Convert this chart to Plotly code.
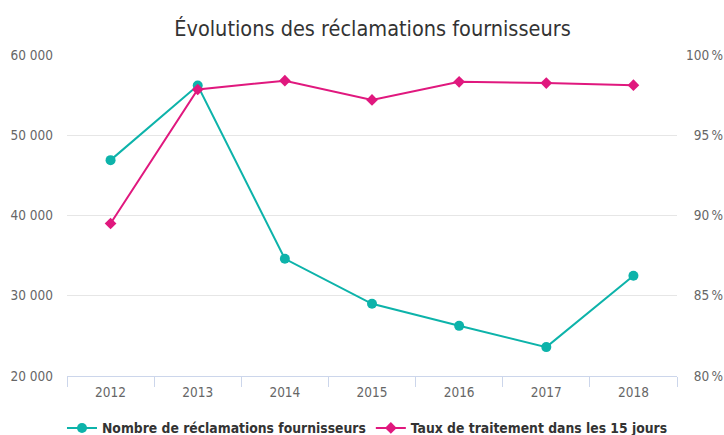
import plotly.graph_objects as go

years = ["2012", "2013", "2014", "2015", "2016", "2017", "2018"]
reclamations = [46900, 56200, 34600, 29000, 26250, 23600, 32500]
taux = [89.5, 97.85, 98.4, 97.2, 98.33, 98.25, 98.12]

left_ticks = [20000, 30000, 40000, 50000, 60000]
right_ticks = [80, 85, 90, 95, 100]
FSP = "\u2007"  # figure space, same width as a digit
NSP = "\u202f"  # narrow no-break space
right_labels = [(FSP if v < 100 else "") + f"{v}{NSP}%" for v in right_ticks]

FONT = "DejaVu Sans Condensed, Liberation Sans Narrow, Open Sans, sans-serif"
TEAL = "#0db3aa"
MAGENTA = "#e0187e"

fig = go.Figure()
fig.add_trace(go.Scatter(
    x=years, y=reclamations, name="<b>Nombre de réclamations fournisseurs</b>",
    mode="lines+markers", line=dict(color=TEAL, width=2),
    marker=dict(symbol="circle", size=10, color=TEAL), yaxis="y"))
fig.add_trace(go.Scatter(
    x=years, y=taux, name="<b>Taux de traitement dans les 15 jours</b>",
    mode="lines+markers", line=dict(color=MAGENTA, width=2),
    marker=dict(symbol="diamond", size=9, color=MAGENTA), yaxis="y2"))

fig.update_layout(
    width=724, height=435,
    margin=dict(l=67, r=47, t=55, b=59, autoexpand=False),
    paper_bgcolor="white", plot_bgcolor="white",
    separators=", ",
    font=dict(family=FONT, color="#666666", size=13.5),
    title=dict(text="Évolutions des réclamations fournisseurs", x=0.5145, xanchor="center",
               y=0.9356, yanchor="middle", font=dict(size=21.5, color="#333333", family=FONT)),
    xaxis=dict(type="category", range=[-0.5, len(years) - 0.5], showgrid=False, showline=True,
               linecolor="#ccd6eb", linewidth=1,
               ticks="outside", tickson="boundaries", ticklen=10, tickcolor="#ccd6eb",
               ticklabelstandoff=4,
               tickfont=dict(size=13.5, color="#666666"), zeroline=False),
    yaxis=dict(range=[20000, 60000], tickvals=left_ticks, tickformat=",d", showgrid=True,
               gridcolor="#e6e6e6", zeroline=False, showline=False, ticks="", ticklabelstandoff=13,
               tickfont=dict(size=13.5, color="#666666")),
    yaxis2=dict(range=[80, 100], tickvals=right_ticks, ticktext=right_labels, overlaying="y",
                side="right", showgrid=False, zeroline=False, showline=False, ticklabelstandoff=8,
                tickfont=dict(size=13.5, color="#666666")),
    legend=dict(orientation="h", x=0.4926, xanchor="center", y=-0.162, yanchor="middle",
                font=dict(size=13.8, color="#333333", family=FONT), itemwidth=30,
                traceorder="normal"),
    showlegend=True,
)

fig.write_html("out.html", config={"displayModeBar": False},
               post_script="document.body.style.margin='0';document.body.style.overflow='hidden';")
